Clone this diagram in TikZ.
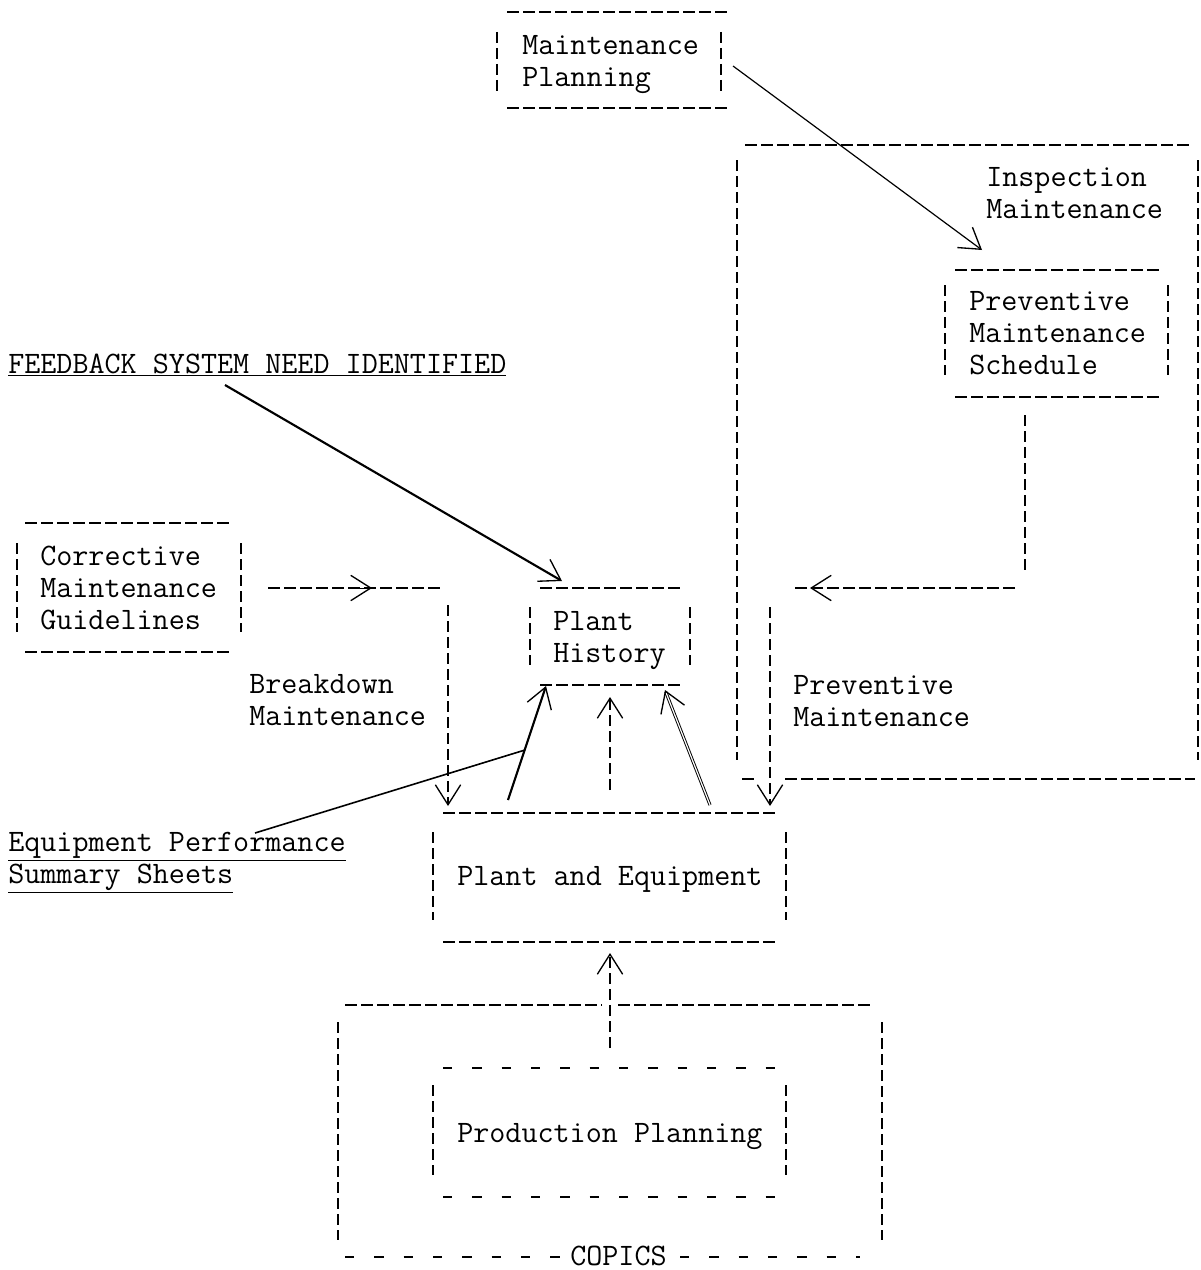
\documentclass[tikz,border=0pt]{standalone}
\usepackage{fontspec}
\usetikzlibrary{arrows.meta}

\tikzset{
  typed/.style={line width=1.4pt, dash pattern=on 9pt off 3pt},
  ruled/.style={line width=1pt, dash pattern=on 8pt off 4pt},
  spaced/.style={line width=1.4pt, dash pattern=on 7pt off 15pt},
  barb/.style={-{Straight Barb[length=15pt,width=19pt,line width=1pt]}},
  txt/.style={anchor=base west, inner sep=0pt, align=left}
}

\begin{document}
\begin{tikzpicture}[x=0.75pt,y=0.75pt,yscale=-1,xscale=1,font={\fontsize{23.4}{24}\selectfont\ttfamily\addfontfeatures{FakeBold=1.2}}]
%set diagram size
\path[use as bounding box] (0,0) rectangle (1201,1270);

%Shape: Maintenance Planning box
\draw[typed] (507,12) -- (727,12);
\draw[ruled] (497,32) -- (497,92);
\draw[ruled] (721,32) -- (721,92);
\draw[typed] (507,108) -- (727,108);
%Shape: Inspection Maintenance box
\draw[typed] (745,145) -- (1192,145);
\draw[ruled] (737,160) -- (737,760);
\draw[ruled] (1198,160) -- (1198,760);
\draw[typed] (742,779) -- (757,779);
\draw[typed] (785,779) -- (1195,779);
%Shape: Preventive Maintenance Schedule box
\draw[typed] (955,270) -- (1160,270);
\draw[ruled] (945,285) -- (945,375);
\draw[ruled] (1168,285) -- (1168,375);
\draw[typed] (955,397) -- (1160,397);
%Shape: Corrective Maintenance Guidelines box
\draw[typed] (25,523) -- (232,523);
\draw[ruled] (17,543) -- (17,632);
\draw[ruled] (241,543) -- (241,632);
\draw[typed] (25,652) -- (232,652);
%Shape: Plant History box
\draw[typed] (540,588) -- (682,588);
\draw[ruled] (530,607) -- (530,665);
\draw[ruled] (690,607) -- (690,665);
\draw[typed] (540,685) -- (682,685);
%Shape: Plant and Equipment box
\draw[typed] (443,813) -- (775,813);
\draw[ruled] (433,832) -- (433,920);
\draw[ruled] (786,832) -- (786,920);
\draw[typed] (443,942) -- (775,942);
%Shape: COPICS box
\draw[typed] (345,1005) -- (602,1005);
\draw[typed] (618,1005) -- (870,1005);
\draw[ruled] (338,1022) -- (338,1240);
\draw[ruled] (882,1022) -- (882,1240);
\draw[spaced] (345,1257) -- (565,1257);
\draw[spaced] (680,1257) -- (860,1257);
%Shape: Production Planning box
\draw[spaced] (443,1068) -- (780,1068);
\draw[ruled] (433,1085) -- (433,1175);
\draw[ruled] (786,1085) -- (786,1175);
\draw[spaced] (443,1197) -- (780,1197);

% Text Node
\draw (522,86) node[txt] (mplan) {Maintenance\\Planning};
% Text Node
\draw (986,218) node[txt] (insp) {Inspection\\Maintenance};
% Text Node
\draw (969,374) node[txt] (pms) {Preventive\\Maintenance\\Schedule};
% Text Node
\draw (8,373) node[txt] (fbsni) {\underline{FEEDBACK SYSTEM NEED IDENTIFIED}};
% Text Node
\draw (40,629) node[txt] (cmg) {Corrective\\Maintenance\\Guidelines};
% Text Node
\draw (249,725) node[txt] (bdm) {Breakdown\\Maintenance};
% Text Node
\draw (553,662) node[txt] (ph) {Plant\\History};
% Text Node
\draw (793,726) node[txt] (pvm) {Preventive\\Maintenance};
% Text Node
\draw (8,883) node[txt] (epss) {\underline{Equipment Performance}\\\underline{Summary Sheets}};
% Text Node
\draw (457,885) node[txt] (pe) {Plant and Equipment};
% Text Node
\draw (457,1142) node[txt] (pp) {Production Planning};
% Text Node
\draw (570,1265) node[txt] (copics) {COPICS};

%Connector ends
\coordinate (mpOut) at (733,66);
\coordinate (pmsIn) at (982,250);
\coordinate (fbOut) at (225,385);
\coordinate (phIn) at (562,581);
\coordinate (epOut) at (255,833);
\coordinate (epIn) at (525,750);
\coordinate (peL) at (508,800);
\coordinate (phL) at (546,686);
\coordinate (peM) at (610,790);
\coordinate (phM) at (610,697);
\coordinate (peR) at (710,805);
\coordinate (phR) at (665,690);
\coordinate (cmgOut) at (268,588);
\coordinate (bdTurn) at (440,588);
\coordinate (bdTop) at (448,605);
\coordinate (peInL) at (448,806);
\coordinate (pmsOut) at (1025,415);
\coordinate (pmsTurn) at (1025,572);
\coordinate (pvTurn) at (1015,588);
\coordinate (pvEnd) at (795,588);
\coordinate (pvTop) at (770,607);
\coordinate (peInR) at (770,806);
\coordinate (ppOut) at (610,1048);
\coordinate (peIn) at (610,953);

%Straight Lines
\draw[barb, line width=0.9pt] (mpOut) -- (pmsIn);
\draw[barb, line width=1.6pt] (fbOut) -- (phIn);
\draw[line width=1.2pt] (epOut) -- (epIn);
\draw[barb, line width=1.6pt] (peL) -- (phL);
\draw[barb, ruled] (peM) -- (phM);
\draw[barb, line width=0.7pt, double, double distance=0.9pt] (peR) -- (phR);
%Breakdown path
\draw[typed] (cmgOut) -- (bdTurn);
\draw[barb] (360,588) -- (372,588);
\draw[barb, ruled] (bdTop) -- (peInL);
%Preventive path
\draw[ruled] (pmsOut) -- (pmsTurn);
\draw[typed] (pvTurn) -- (pvEnd);
\draw[barb] (822,588) -- (810,588);
\draw[barb, ruled] (pvTop) -- (peInR);
%COPICS up
\draw[barb, ruled] (ppOut) -- (peIn);

\end{tikzpicture}
\end{document}
